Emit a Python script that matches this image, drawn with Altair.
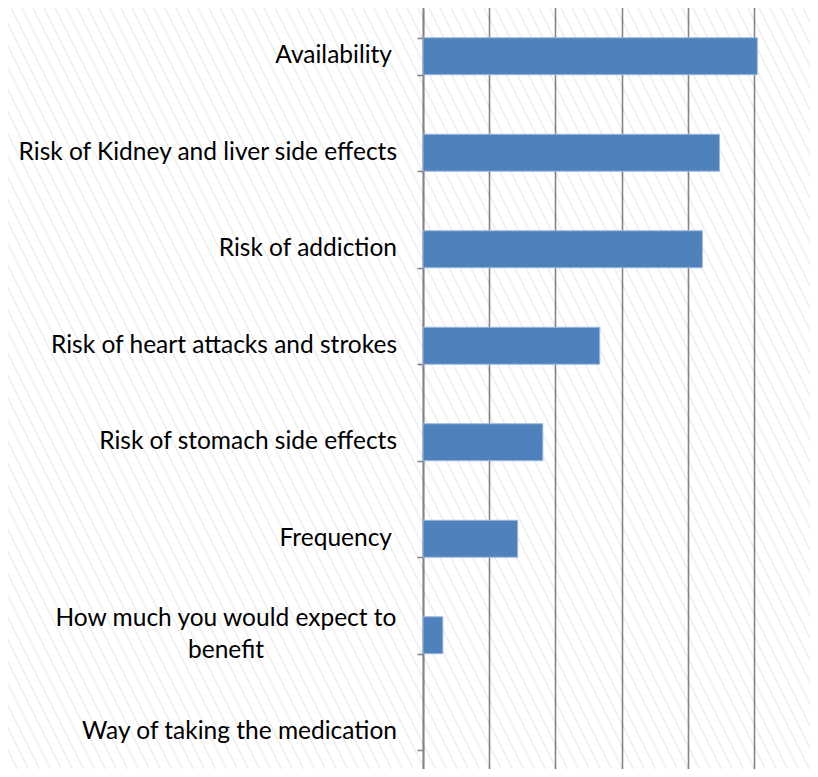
import altair as alt
import pandas as pd

categories = [
    "Availability ",
    "Risk of Kidney and liver side effects",
    "Risk of addiction",
    "Risk of heart attacks and strokes",
    "Risk of stomach side effects",
    "Frequency ",
    "How much you would expect to benefit",
    "Way of taking the medication",
]
values = [5.05, 4.48, 4.22, 2.67, 1.81, 1.43, 0.30, 0.0]
display_labels = [
    "Availability ",
    "Risk of Kidney and liver side effects",
    "Risk of addiction",
    "Risk of heart attacks and strokes",
    "Risk of stomach side effects",
    "Frequency ",
    "How much you would expect to\nbenefit",
    "Way of taking the medication",
]

df = pd.DataFrame({"cat": categories, "val": values, "label": display_labels})
df["multi"] = df["label"].str.contains("\n")
df["trail"] = df["label"].str.endswith(" ")

LEFT = 415          # room for the category labels
PW, PH = 387, 761   # visible plot area (page is 818x777 with 8px margins)
STEP = 96.5
UNIT = 66.2         # pixels per x unit
FONT = "Lato"
FS = 24.5

# faint diagonal hatch background as a gradient
W, H = PW + LEFT, PH
k = (2 * W + H) / (4 * W * W + H * H)
x2g = 2 * W * k
y2g = 1 - H * k
total = 2 * W + H
period = 22.0
stops = []
clear = "rgba(255,255,255,0)"
line = "rgba(0,0,0,0.06)"
i = 0
while i * period / total <= 1:
    a = i * period / total
    b = (i * period + 17) / total
    c = (i * period + 21) / total
    stops.append({"offset": a, "color": clear})
    if c <= 1:
        stops.append({"offset": b, "color": clear})
        stops.append({"offset": b, "color": line})
        stops.append({"offset": c, "color": line})
        stops.append({"offset": c, "color": clear})
    i += 1

gradient = {"gradient": "linear", "x1": 0, "y1": 1, "x2": x2g, "y2": y2g, "stops": stops}

ysc = alt.Scale(domain=categories, range=[0, STEP * len(categories)],
                paddingInner=0.617, paddingOuter=0.3085)
xsc = alt.Scale(domain=[0, PW / UNIT], nice=False, zero=True)

base = alt.Chart(df)

bars = base.transform_filter("datum.val > 0").mark_bar(
    color="#4F81BD", stroke="#9DB9DE", strokeWidth=1
).encode(
    x=alt.X("val:Q", scale=xsc, title=None,
            axis=alt.Axis(values=[0, 1, 2, 3, 4, 5], labels=False, ticks=False, domain=False,
                          grid=True, gridColor="#868686", gridWidth=1.6)),
    y=alt.Y("cat:N", scale=ysc, sort=None, title=None,
            axis=alt.Axis(labels=False, ticks=True, tickSize=6, tickBand="extent",
                          tickColor="#868686", tickWidth=1.6, domainColor="#868686",
                          domainWidth=1.8, grid=False)),
)

labels_single = base.transform_filter("!datum.multi && !datum.trail").mark_text(
    align="right", baseline="middle", font=FONT, fontSize=FS, color="#000000"
).encode(y=alt.Y("cat:N", scale=ysc, sort=None), x=alt.value(-26), text="label:N")

labels_trail = base.transform_filter("datum.trail").mark_text(
    align="right", baseline="middle", font=FONT, fontSize=FS, color="#000000"
).encode(y=alt.Y("cat:N", scale=ysc, sort=None), x=alt.value(-31), text="label:N")

labels_multi = base.transform_filter("datum.multi").mark_text(
    align="center", baseline="middle", font=FONT, fontSize=FS, color="#000000",
    lineBreak="\n", lineHeight=32, dy=-16
).encode(y=alt.Y("cat:N", scale=ysc, sort=None), x=alt.value(-197), text="label:N")

hatch = alt.Chart(pd.DataFrame({"a": [0]})).mark_rect(fill=gradient).encode(
    x=alt.value(-LEFT), x2=alt.value(PW), y=alt.value(0), y2=alt.value(PH)
)

chart = alt.layer(hatch, bars, labels_single, labels_trail, labels_multi).properties(
    width=PW, height=PH,
    padding={"left": LEFT, "top": 0, "right": 0, "bottom": 0},
    autosize=alt.AutoSizeParams(type="none"),
).configure_view(stroke=None).configure_axis(labelFont=FONT)

chart.save("out.html", embed_options={"renderer": "svg", "actions": False})
